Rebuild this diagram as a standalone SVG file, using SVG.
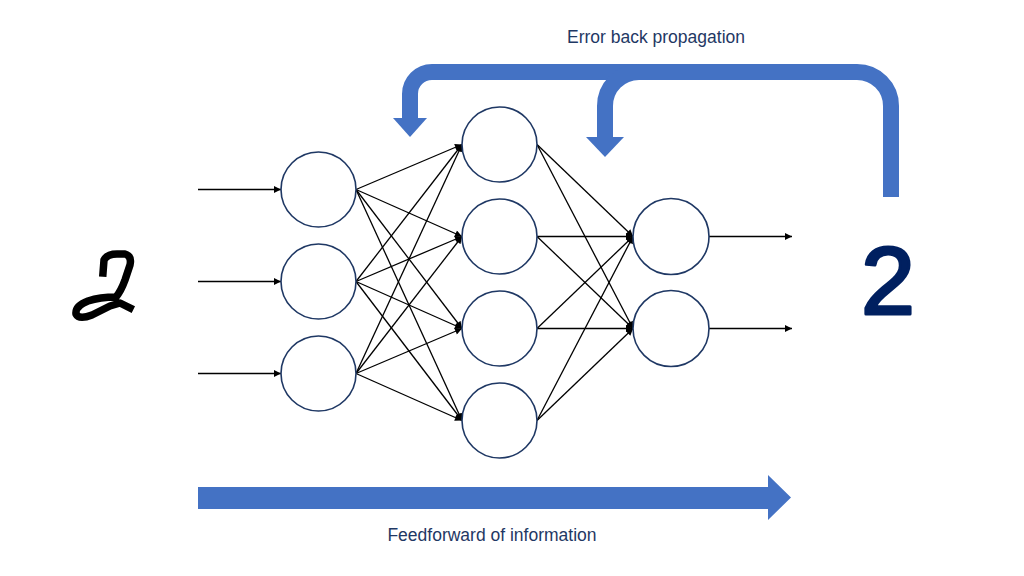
<svg xmlns="http://www.w3.org/2000/svg" width="1024" height="576" viewBox="0 0 1024 576">
  <defs>
    <marker id="ah" viewBox="0 0 10 10" refX="10" refY="5" markerWidth="8" markerHeight="7" markerUnits="userSpaceOnUse" orient="auto">
      <path d="M0,0 L10,5 L0,10 z" fill="#000"/>
    </marker>
    <style>
      .node { fill: #fff; stroke: #1F3864; stroke-width: 1.6; }
      .edge { stroke: #000; stroke-width: 1.3; fill: none; marker-end: url(#ah); }
      .band { fill: none; stroke: #4472C4; stroke-width: 16; stroke-linecap: butt; stroke-linejoin: miter; }
      .blue { fill: #4472C4; }
      .lbl { font-family: "Liberation Sans", Arial, sans-serif; font-size: 17.5px; fill: #1F3864; text-anchor: middle; }
    </style>
  </defs>
  <rect width="1024" height="576" fill="#fff"/>

  <!-- handwritten input digit -->
  <g id="input-digit">
    <path d="M103,273 L104,260 Q107,254 117,254 L125,254 Q132,256 130,265 L125,280 Q121,291 116,297 Q100,297 88,301 Q75,306 76,314 Q79,320 92,315 L110,306 L120,303 L130,308" fill="none" stroke="#000" stroke-width="7.5" stroke-linecap="square" stroke-linejoin="round"/>
  </g>

  <!-- big blue flow arrows -->
  <g id="flow-arrows">
    <path class="band" d="M891,197 L891,106 A34,34 0 0 0 857,72 L432,72 A22,22 0 0 0 410,94 L410,119"/>
    <polygon class="blue" points="393,118 427,118 410,137"/>
    <path class="band" d="M700,72 L639,72 A34,34 0 0 0 605,106 L605,138"/>
    <polygon class="blue" points="586,137 624,137 605,157"/>
    <polygon class="blue" points="198,487 768,487 768,475 791,497.5 768,520 768,509 198,509"/>
  </g>

  <!-- connectors -->
  <g id="connectors">
    <line class="edge" x1="198" y1="189.5" x2="281" y2="189.5"/>
    <line class="edge" x1="198" y1="281.5" x2="281" y2="281.5"/>
    <line class="edge" x1="198" y1="373.5" x2="281" y2="373.5"/>

    <line class="edge" x1="356" y1="189.5" x2="462" y2="144.5"/>
    <line class="edge" x1="356" y1="189.5" x2="462" y2="236.5"/>
    <line class="edge" x1="356" y1="189.5" x2="462" y2="328.5"/>
    <line class="edge" x1="356" y1="189.5" x2="462" y2="420.5"/>
    <line class="edge" x1="356" y1="281.5" x2="462" y2="144.5"/>
    <line class="edge" x1="356" y1="281.5" x2="462" y2="236.5"/>
    <line class="edge" x1="356" y1="281.5" x2="462" y2="328.5"/>
    <line class="edge" x1="356" y1="281.5" x2="462" y2="420.5"/>
    <line class="edge" x1="356" y1="373.5" x2="462" y2="144.5"/>
    <line class="edge" x1="356" y1="373.5" x2="462" y2="236.5"/>
    <line class="edge" x1="356" y1="373.5" x2="462" y2="328.5"/>
    <line class="edge" x1="356" y1="373.5" x2="462" y2="420.5"/>

    <line class="edge" x1="537" y1="144.5" x2="633" y2="236.5"/>
    <line class="edge" x1="537" y1="144.5" x2="633" y2="328.5"/>
    <line class="edge" x1="537" y1="236.5" x2="633" y2="236.5"/>
    <line class="edge" x1="537" y1="236.5" x2="633" y2="328.5"/>
    <line class="edge" x1="537" y1="328.5" x2="633" y2="236.5"/>
    <line class="edge" x1="537" y1="328.5" x2="633" y2="328.5"/>
    <line class="edge" x1="537" y1="420.5" x2="633" y2="236.5"/>
    <line class="edge" x1="537" y1="420.5" x2="633" y2="328.5"/>

    <line class="edge" x1="709" y1="236.5" x2="792" y2="236.5"/>
    <line class="edge" x1="709" y1="328.5" x2="792" y2="328.5"/>
  </g>

  <!-- nodes -->
  <g id="in1"><circle class="node" cx="318.5" cy="189.5" r="37.5"/></g>
  <g id="in2"><circle class="node" cx="318.5" cy="281.5" r="37.5"/></g>
  <g id="in3"><circle class="node" cx="318.5" cy="373.5" r="37.5"/></g>

  <g id="h1"><circle class="node" cx="499.5" cy="144.5" r="37.5"/></g>
  <g id="h2"><circle class="node" cx="499.5" cy="236.5" r="37.5"/></g>
  <g id="h3"><circle class="node" cx="499.5" cy="328.5" r="37.5"/></g>
  <g id="h4"><circle class="node" cx="499.5" cy="420.5" r="37.5"/></g>

  <g id="out1"><circle class="node" cx="671" cy="236.5" r="38"/></g>
  <g id="out2"><circle class="node" cx="671" cy="328.5" r="38"/></g>

  <!-- labels -->
  <g id="output-digit">
    <text x="888" y="314" font-family="Liberation Sans, Arial, sans-serif" font-size="97" fill="#002060" stroke="#002060" stroke-width="3" stroke-linejoin="round" text-anchor="middle">2</text>
  </g>
  <g id="label-backprop">
    <text class="lbl" x="656" y="43">Error back propagation</text>
  </g>
  <g id="label-feedforward">
    <text class="lbl" x="492" y="541">Feedforward of information</text>
  </g>
</svg>
